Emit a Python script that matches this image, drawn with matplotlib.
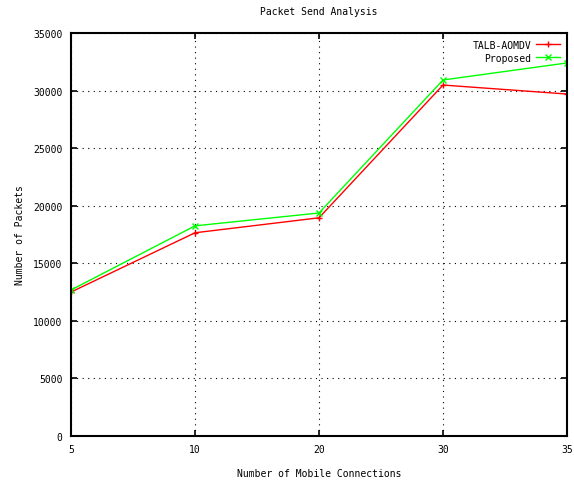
import matplotlib
matplotlib.use('Agg')
import matplotlib.pyplot as plt

connections = ['5', '10', '20', '30', '35']
talb_aomdv = [12500, 17650, 18950, 30480, 29700]
proposed = [12680, 18250, 19370, 30920, 32400]

plt.rcParams['font.family'] = 'DejaVu Sans Mono'
plt.rcParams['font.size'] = 7

fig = plt.figure(figsize=(5.74, 4.81), dpi=100)
ax = fig.add_axes([0.1237, 0.0915, 0.8641, 0.8378])

pos = range(len(connections))
ax.plot(pos, talb_aomdv, color='#ff0000', marker='+', markersize=5, linewidth=1, label='TALB-AOMDV')
ax.plot(pos, proposed, color='#00ff00', marker='x', markersize=4, linewidth=1, label='Proposed')

ax.set_xlim(0, len(connections) - 1)
ax.set_ylim(0, 35000)
ax.set_xticks(list(pos))
ax.set_xticklabels(connections)
ax.set_yticks(range(0, 35001, 5000))
ax.grid(True, color='black', linestyle=(0, (1, 4)), linewidth=0.8)
ax.tick_params(direction='in', top=True, right=True, length=4, width=1.2, pad=6)
for s in ax.spines.values():
    s.set_linewidth(1.5)

ax.set_title('Packet Send Analysis', fontsize=7, pad=14)
ax.set_xlabel('Number of Mobile Connections', labelpad=10)
ax.set_ylabel('Number of Packets', labelpad=6)

ax.legend(loc='upper right', markerfirst=False, frameon=False, handlelength=2.5,
          labelspacing=0.3, borderaxespad=0.3, handletextpad=0.5)

fig.savefig('out.png', dpi=100)
